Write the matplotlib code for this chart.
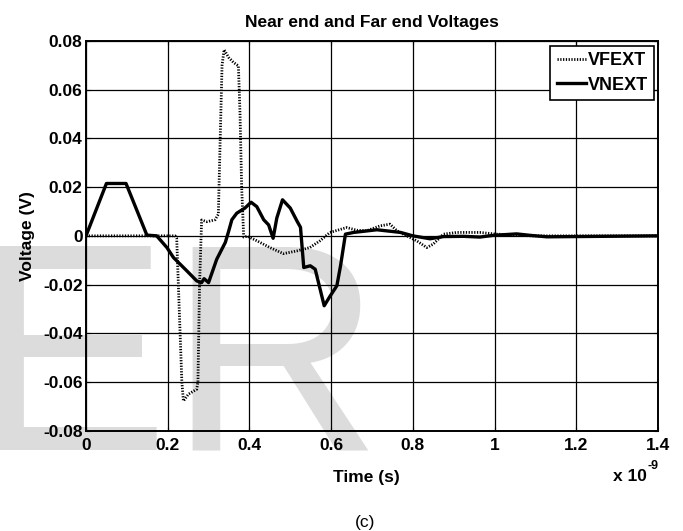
import matplotlib
matplotlib.use("Agg")
import matplotlib.pyplot as plt

plt.rcParams['font.family'] = ['Liberation Sans', 'DejaVu Sans']
plt.rcParams['font.weight'] = 'bold'

# time in ns (axis shows x 10^-9)
t_next = [0, 0.05, 0.098, 0.149, 0.173, 0.198, 0.214, 0.247, 0.271, 0.283,
          0.289, 0.30, 0.32, 0.341, 0.349, 0.357, 0.369, 0.389, 0.404, 0.418,
          0.435, 0.447, 0.458, 0.467, 0.481, 0.50, 0.517, 0.525, 0.533, 0.549,
          0.561, 0.583, 0.598, 0.614, 0.623, 0.635, 0.655, 0.712, 0.77, 0.80,
          0.842, 0.875, 0.924, 0.964, 0.997, 1.054, 1.087, 1.128, 1.4]
v_next = [0, 0.0215, 0.0215, 0.0003, 0, -0.0048, -0.0089, -0.0144, -0.0185, -0.0192,
          -0.0176, -0.0192, -0.0096, -0.0027, 0.0018, 0.0066, 0.0093, 0.0114, 0.0138, 0.012,
          0.0066, 0.0045, -0.001, 0.0073, 0.0148, 0.0114, 0.0059, 0.0035, -0.013, -0.0123,
          -0.0137, -0.0287, -0.0246, -0.0205, -0.0123, 0.0007, 0.0014, 0.0025, 0.0014, 0.0,
          -0.0012, -0.0003, -0.0002, -0.0005, 0.0002, 0.0008, 0.0002, -0.0004, 0]

t_fext = [0, 0.218, 0.222, 0.2346, 0.2385, 0.2507, 0.271, 0.274, 0.278, 0.283,
          0.296, 0.316, 0.324, 0.327, 0.333, 0.338, 0.349, 0.361, 0.373, 0.377,
          0.381, 0.386, 0.395, 0.418, 0.45, 0.483, 0.516, 0.548, 0.573, 0.597,
          0.638, 0.663, 0.687, 0.72, 0.744, 0.761, 0.785, 0.81, 0.834, 0.85,
          0.875, 0.907, 0.964, 1.005, 1.046, 1.087, 1.4]
v_fext = [0, 0, -0.001, -0.06, -0.0678, -0.065, -0.063, -0.06, -0.02, 0.0065,
          0.0058, 0.0066, 0.0089, 0.03, 0.07, 0.0764, 0.0733, 0.0712, 0.0698, 0.05,
          0.02, -0.0005, -0.0002, -0.002, -0.0048, -0.0073, -0.0062, -0.0048, -0.002, 0.0014,
          0.0034, 0.0023, 0.0021, 0.0041, 0.0048, 0.0021, 0, -0.0021, -0.0048, -0.0034,
          0.0007, 0.0014, 0.0014, 0.0007, 0.0004, 0, 0]

x_ticks = [0, 0.2, 0.4, 0.6, 0.8, 1.0, 1.2, 1.4]
x_labels = ['0', '0.2', '0.4', '0.6', '0.8', '1', '1.2', '1.4']
y_ticks = [-0.08, -0.06, -0.04, -0.02, 0, 0.02, 0.04, 0.06, 0.08]
y_labels = ['-0.08', '-0.06', '-0.04', '-0.02', '0', '0.02', '0.04', '0.06', '0.08']

fig = plt.figure(figsize=(6.83, 5.31), dpi=100)
ax = fig.add_axes([0.1259, 0.1889, 0.8375, 0.7339])
ax.set_facecolor('none')

# watermark behind the axes
fig.text(-28 / 683, 81 / 531, 'ER', fontsize=213, fontweight='normal',
         color='#dcdcdc', ha='left', va='baseline', zorder=-1)

ax.plot(t_fext, v_fext, color='black', linewidth=2.0, linestyle=(0, (0.45, 0.55)),
        label='VFEXT', zorder=3)
ax.plot(t_next, v_next, color='black', linewidth=2.4, label='VNEXT', zorder=4)

ax.set_xlim(0, 1.4)
ax.set_ylim(-0.08, 0.08)
ax.set_xticks(x_ticks)
ax.set_xticklabels(x_labels)
ax.set_yticks(y_ticks)
ax.set_yticklabels(y_labels)
ax.tick_params(direction='in', length=3, top=True, right=True, labelsize=12.5)
ax.tick_params(axis='x', pad=5.5)
ax.tick_params(axis='y', pad=2.5)
ax.grid(True, color='black', linewidth=0.9)
for s in ax.spines.values():
    s.set_linewidth(1.4)

ax.set_title('Near end and Far end Voltages', fontsize=12.5, fontweight='bold', pad=10)
ax.set_xlabel('Time (s)', fontsize=12.5, fontweight='bold')
ax.xaxis.set_label_coords((366 - 86) / 572, -(470 - 430.7) / 389.7)
ax.set_ylabel('Voltage (V)', fontsize=12.5, fontweight='bold')
ax.yaxis.set_label_coords(-(86 - 35) / 572, 0.5)

fig.text(613 / 683, 1 - 481 / 531, 'x 10', fontsize=12.5, fontweight='bold',
         ha='left', va='baseline')
fig.text(648 / 683, 1 - 469 / 531, '-9', fontsize=9, fontweight='bold',
         ha='left', va='baseline')
fig.text(365 / 683, 1 - 522 / 531, '(c)', fontsize=12.5, fontweight='normal',
         ha='center', va='center')

leg = ax.legend(loc='upper right', bbox_to_anchor=(0.993, 0.987), fontsize=13,
                handlelength=1.6, handletextpad=0.1, labelspacing=0.4,
                borderpad=0.35, borderaxespad=0, fancybox=False, framealpha=1,
                edgecolor='black')
leg.get_frame().set_linewidth(1.2)

fig.savefig('out.png', dpi=100)
